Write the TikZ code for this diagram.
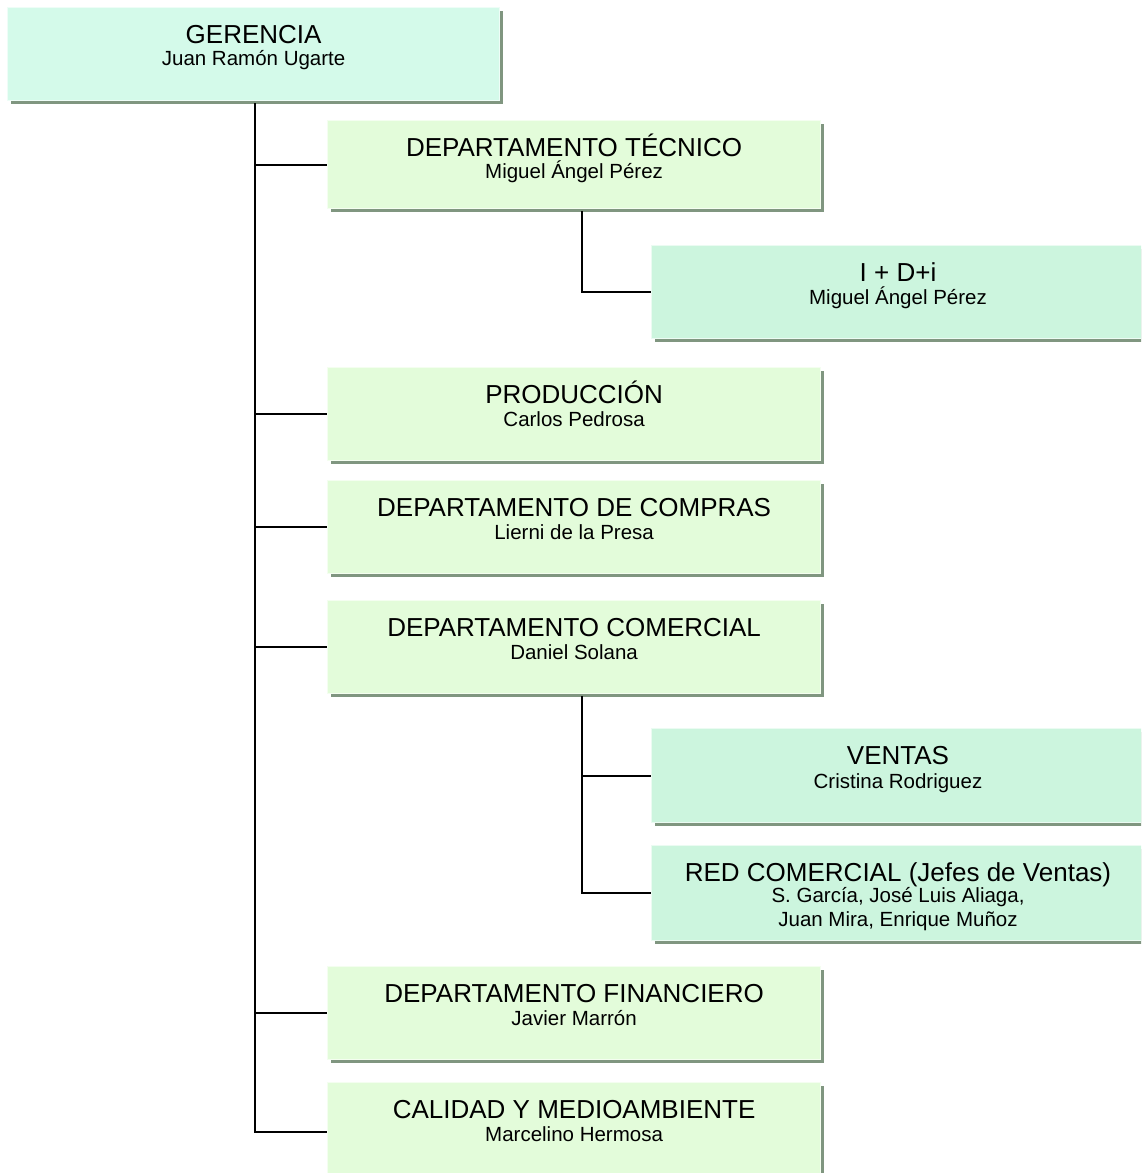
\documentclass[tikz,border=0pt]{standalone}
\usepackage{fontspec}
\setmainfont{Liberation Sans}
\usetikzlibrary{shadows}
\definecolor{gerfill}{RGB}{212,250,234}
\definecolor{depfill}{RGB}{227,252,218}
\definecolor{subfill}{RGB}{204,245,222}
\definecolor{shadowc}{RGB}{128,150,128}
\begin{document}
\begin{tikzpicture}[x=1pt,y=-1pt,
  box/.style={rectangle, inner sep=0pt, anchor=north west, line width=1.2pt,
    drop shadow={shadow xshift=3.5pt, shadow yshift=-3.5pt, fill=shadowc, opacity=1}},
  gerbox/.style={box, fill=gerfill, draw=gerfill!40!white, minimum width=492pt, minimum height=93pt},
  depbox/.style={box, fill=depfill, draw=depfill!40!white, minimum width=493pt, minimum height=93pt},
  subbox/.style={box, fill=subfill, draw=subfill!40!white, minimum width=520pt, minimum height=93pt},
  ttl/.style={anchor=base, inner sep=0pt, font=\fontsize{26}{31}\selectfont},
  who/.style={anchor=base, inner sep=0pt, font=\fontsize{20.5}{24}\selectfont},
  link/.style={draw=black, line width=1.8pt}]
\useasboundingbox (0,0) rectangle (1141,1173);
\clip (0,0) rectangle (1141,1173);

% boxes
\node[gerbox] (ger) at (7,7) {};
\node[depbox, minimum height=88pt] (tec) at (327,120) {};
\node[subbox] (idi) at (651,245) {};
\node[depbox] (pro) at (327,367) {};
\node[depbox] (com) at (327,480) {};
\node[depbox] (cme) at (327,600) {};
\node[subbox, minimum height=94pt] (ven) at (651,728) {};
\node[subbox, minimum height=95pt] (red) at (651,845) {};
\node[depbox] (fin) at (327,966) {};
\node[depbox] (cal) at (327,1082) {};

% texts
\node[ttl] (gert) at ([yshift=-36pt]ger.north) {GERENCIA};
\node[who] (gern) at ([yshift=-58pt]ger.north) {Juan Ramón Ugarte};
\node[ttl] (tect) at ([yshift=-36pt]tec.north) {DEPARTAMENTO TÉCNICO};
\node[who] (tecn) at ([yshift=-58pt]tec.north) {Miguel Ángel Pérez};
\node[ttl] (idit) at ([yshift=-36pt]idi.north -| 898,0) {I + D+i};
\node[who] (idin) at ([yshift=-59pt]idi.north -| 898,0) {Miguel Ángel Pérez};
\node[ttl] (prot) at ([yshift=-36pt]pro.north) {PRODUCCIÓN};
\node[who] (pron) at ([yshift=-59pt]pro.north) {Carlos Pedrosa};
\node[ttl] (comt) at ([yshift=-36pt]com.north) {DEPARTAMENTO DE COMPRAS};
\node[who] (comn) at ([yshift=-59pt]com.north) {Lierni de la Presa};
\node[ttl] (cmet) at ([yshift=-36pt]cme.north) {DEPARTAMENTO COMERCIAL};
\node[who] (cmen) at ([yshift=-59pt]cme.north) {Daniel Solana};
\node[ttl] (vent) at ([yshift=-36pt]ven.north -| 898,0) {VENTAS};
\node[who] (venn) at ([yshift=-60pt]ven.north -| 898,0) {Cristina Rodriguez};
\node[ttl] (redt) at ([yshift=-36pt]red.north -| 898,0) {RED COMERCIAL (Jefes de Ventas)};
\node[who] (redn) at ([yshift=-57pt]red.north -| 898,0) {S. García, José Luis Aliaga,};
\node[who] (redm) at ([yshift=-81pt]red.north -| 898,0) {Juan Mira, Enrique Muñoz};
\node[ttl] (fint) at ([yshift=-36pt]fin.north) {DEPARTAMENTO FINANCIERO};
\node[who] (finn) at ([yshift=-59pt]fin.north) {Javier Marrón};
\node[ttl] (calt) at ([yshift=-36pt]cal.north) {CALIDAD Y MEDIOAMBIENTE};
\node[who] (caln) at ([yshift=-59pt]cal.north) {Marcelino Hermosa};

% connectors
\coordinate (trunk) at (255,103);
\coordinate (tecsub) at (582,211);
\coordinate (cmesub) at (582,696);
\coordinate (calend) at (255,1132);
\draw[link] (trunk) -- (calend) -- (cal.west |- calend);
\draw[link] (trunk |- tec.west) -- (tec.west);
\draw[link] (trunk |- pro.west) -- (pro.west);
\draw[link] (trunk |- com.west) -- (com.west);
\draw[link] (trunk |- cme.west) -- (cme.west);
\draw[link] (trunk |- fin.west) -- (fin.west);
\draw[link] (tecsub) |- (idi.west);
\draw[link] (cmesub) |- (red.west);
\draw[link] (cmesub |- ven.west) -- (ven.west);
\end{tikzpicture}
\end{document}
